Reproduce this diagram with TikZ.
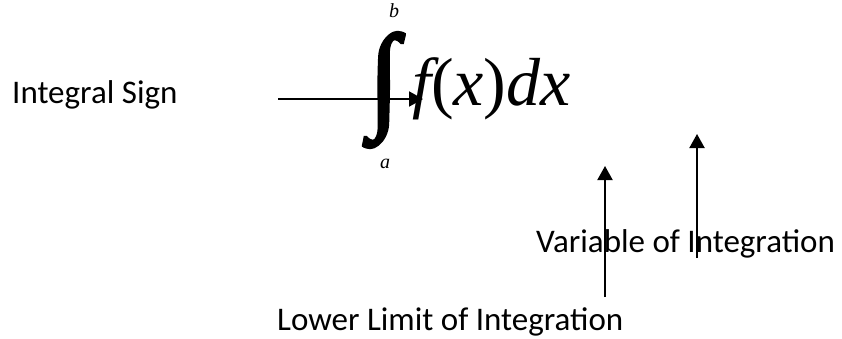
\documentclass[tikz,border=0pt]{standalone}
\usepackage{fontspec}
\usepackage{graphicx}
\setmainfont{Carlito}
\newfontfamily\eqfont{Liberation Serif}[ItalicFont={Liberation Serif Italic}]
\newfontfamily\intfont[FakeBold=3]{Liberation Serif}
\usetikzlibrary{arrows.meta}

\tikzset{
  labeltext/.style={inner sep=0pt, font=\fontsize{33}{40}\selectfont},
  limittext/.style={inner sep=0pt, font=\eqfont\itshape\fontsize{20}{24}\selectfont},
  pointer/.style={line width=2pt, -{Triangle[length=14pt,width=15pt]}},
}

\begin{document}
\begin{tikzpicture}[x=1pt, y=-1pt]
    \useasboundingbox (0,0) rectangle (842,338);

    % The integral
    \node[inner sep=0pt] (intsign) at (384,90)
        {\intfont\fontsize{60}{60}\selectfont\scalebox{1.8}[1.95]{∫}};
    \node[limittext] (upper) at (394,11) {b};
    \node[limittext] (lower) at (385,164) {a};
    \node[inner sep=0pt, anchor=base west, font=\eqfont\fontsize{68}{72}\selectfont] (integrand) at (412,105)
        {\itshape f\upshape(\itshape x\upshape)\itshape dx};

    % Labels
    \node[labeltext, anchor=base west] (signlbl) at (12,103) {Integral Sign};
    \node[labeltext, anchor=base west] (varlbl) at (536,252) {Variable of Integration};
    \node[labeltext, anchor=base west] (lowlbl) at (277,330) {Lower Limit of Integration};

    % Pointers
    \coordinate (signtail) at (278,99);
    \coordinate (signtip) at (423,99);
    \coordinate (lowtail) at (605,297);
    \coordinate (lowtip) at (605,166);
    \coordinate (vartail) at (697,258);
    \coordinate (vartip) at (697,134);
    \draw[pointer] (signtail) -- (signtip);
    \draw[pointer] (lowtail) -- (lowtip);
    \draw[pointer] (vartail) -- (vartip);
\end{tikzpicture}
\end{document}
